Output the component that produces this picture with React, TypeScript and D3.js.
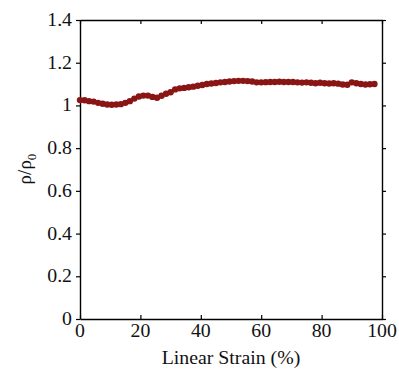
import { useEffect, useRef } from "react";
import * as d3 from "d3";

const strain = [
  0, 1.5, 3, 4.5, 6, 7.5, 9, 10.5, 12, 13.5, 15, 16.5, 18, 19.5, 21, 22.5, 24,
  25.5, 27, 28.5, 30, 31.5, 33, 34.5, 36, 37.5, 39, 40.5, 42, 43.5, 45, 46.5, 48,
  49.5, 51, 52.5, 54, 55.5, 57, 58.5, 60, 61.5, 63, 64.5, 66, 67.5, 69, 70.5, 72,
  73.5, 75, 76.5, 78, 79.5, 81, 82.5, 84, 85.5, 87, 88.5, 90, 91.5, 93, 94.5, 96,
  97.5,
];

const density = [
  1.025, 1.024, 1.02, 1.018, 1.012, 1.008, 1.004, 1.003, 1.004, 1.006, 1.012,
  1.02, 1.032, 1.042, 1.046, 1.046, 1.04, 1.036, 1.045, 1.055, 1.062, 1.075,
  1.08, 1.082, 1.085, 1.088, 1.092, 1.096, 1.1, 1.103, 1.105, 1.108, 1.11, 1.112,
  1.114, 1.115, 1.115, 1.114, 1.112, 1.108, 1.108, 1.109, 1.11, 1.11, 1.111,
  1.11, 1.11, 1.11, 1.108, 1.107, 1.108, 1.106, 1.104, 1.106, 1.104, 1.103,
  1.104, 1.102, 1.098, 1.097, 1.108, 1.104, 1.1, 1.098, 1.099, 1.1,
];

const xTicks = [0, 20, 40, 60, 80, 100];
const yTicks = [0, 0.2, 0.4, 0.6, 0.8, 1, 1.2, 1.4];

const W = 399;
const H = 370;
const m = { left: 80, right: 17, top: 20, bottom: 51 };
const font = "Liberation Serif";
const fs = 18;
const sx = 1.1; // reference text looks slightly stretched horizontally

const App = () => {
  const ref = useRef<SVGSVGElement | null>(null);

  useEffect(() => {
    const svg = d3.select(ref.current);
    svg.selectAll("*").remove();

    const x = d3.scaleLinear().domain([0, 100]).range([m.left, W - m.right]);
    const y = d3.scaleLinear().domain([0, 1.4]).range([H - m.bottom, m.top]);

    const style = (g: d3.Selection<SVGGElement, unknown, null, undefined>) => {
      g.select(".domain").attr("stroke", "#000").attr("stroke-width", 1.4);
      g.selectAll(".tick line").attr("stroke", "#000").attr("stroke-width", 1.2);
    };

    // axes: ticks only, labels drawn below
    svg
      .append("g")
      .attr("transform", `translate(0,${H - m.bottom})`)
      .call(d3.axisBottom(x).tickValues(xTicks).tickFormat(() => "").tickSizeInner(-4).tickSizeOuter(0))
      .call(style);
    svg
      .append("g")
      .attr("transform", `translate(0,${m.top})`)
      .call(d3.axisTop(x).tickValues(xTicks).tickFormat(() => "").tickSizeInner(-4).tickSizeOuter(0))
      .call(style);
    svg
      .append("g")
      .attr("transform", `translate(${m.left},0)`)
      .call(d3.axisLeft(y).tickValues(yTicks).tickFormat(() => "").tickSizeInner(4).tickSizeOuter(0))
      .call(style);
    svg
      .append("g")
      .attr("transform", `translate(${W - m.right},0)`)
      .call(d3.axisRight(y).tickValues(yTicks).tickFormat(() => "").tickSizeInner(4).tickSizeOuter(0))
      .call(style);

    const txt = (px: number, py: number, s: string, anchor: string) =>
      svg
        .append("text")
        .attr("transform", `translate(${px},${py}) scale(${sx},1)`)
        .attr("text-anchor", anchor)
        .attr("fill", "#111")
        .attr("font-family", font)
        .attr("font-size", fs)
        .text(s);

    xTicks.forEach((t) => txt(x(t), 337, d3.format("d")(t), "middle"));
    yTicks.forEach((t) => txt(72, y(t) + 6, d3.format("~g")(t), "end"));
    txt((m.left + W - m.right) / 2, 364, "Linear Strain (%)", "middle");

    const yl = svg
      .append("text")
      .attr("transform", `translate(31,169) rotate(-90)`)
      .attr("text-anchor", "middle")
      .attr("fill", "#111")
      .attr("font-family", font)
      .attr("font-size", 19);
    yl.append("tspan").text("ρ/ρ");
    yl.append("tspan").attr("dy", 5).attr("font-size", 13).text("0");

    const pts = strain.map((s, i) => [s, density[i]] as [number, number]);

    svg
      .append("path")
      .datum(pts)
      .attr("fill", "none")
      .attr("stroke", "#8a1515")
      .attr("stroke-width", 3)
      .attr("d", d3.line().x((d) => x(d[0])).y((d) => y(d[1])));

    svg
      .append("g")
      .attr("fill", "#8a1515")
      .selectAll("circle")
      .data(pts)
      .join("circle")
      .attr("cx", (d) => x(d[0]))
      .attr("cy", (d) => y(d[1]))
      .attr("r", 3.2);
  }, []);

  return (
    <svg
      ref={ref}
      width={W}
      height={H}
      style={{ position: "absolute", left: 0, top: 0, overflow: "visible" }}
    />
  );
};

export default App;
